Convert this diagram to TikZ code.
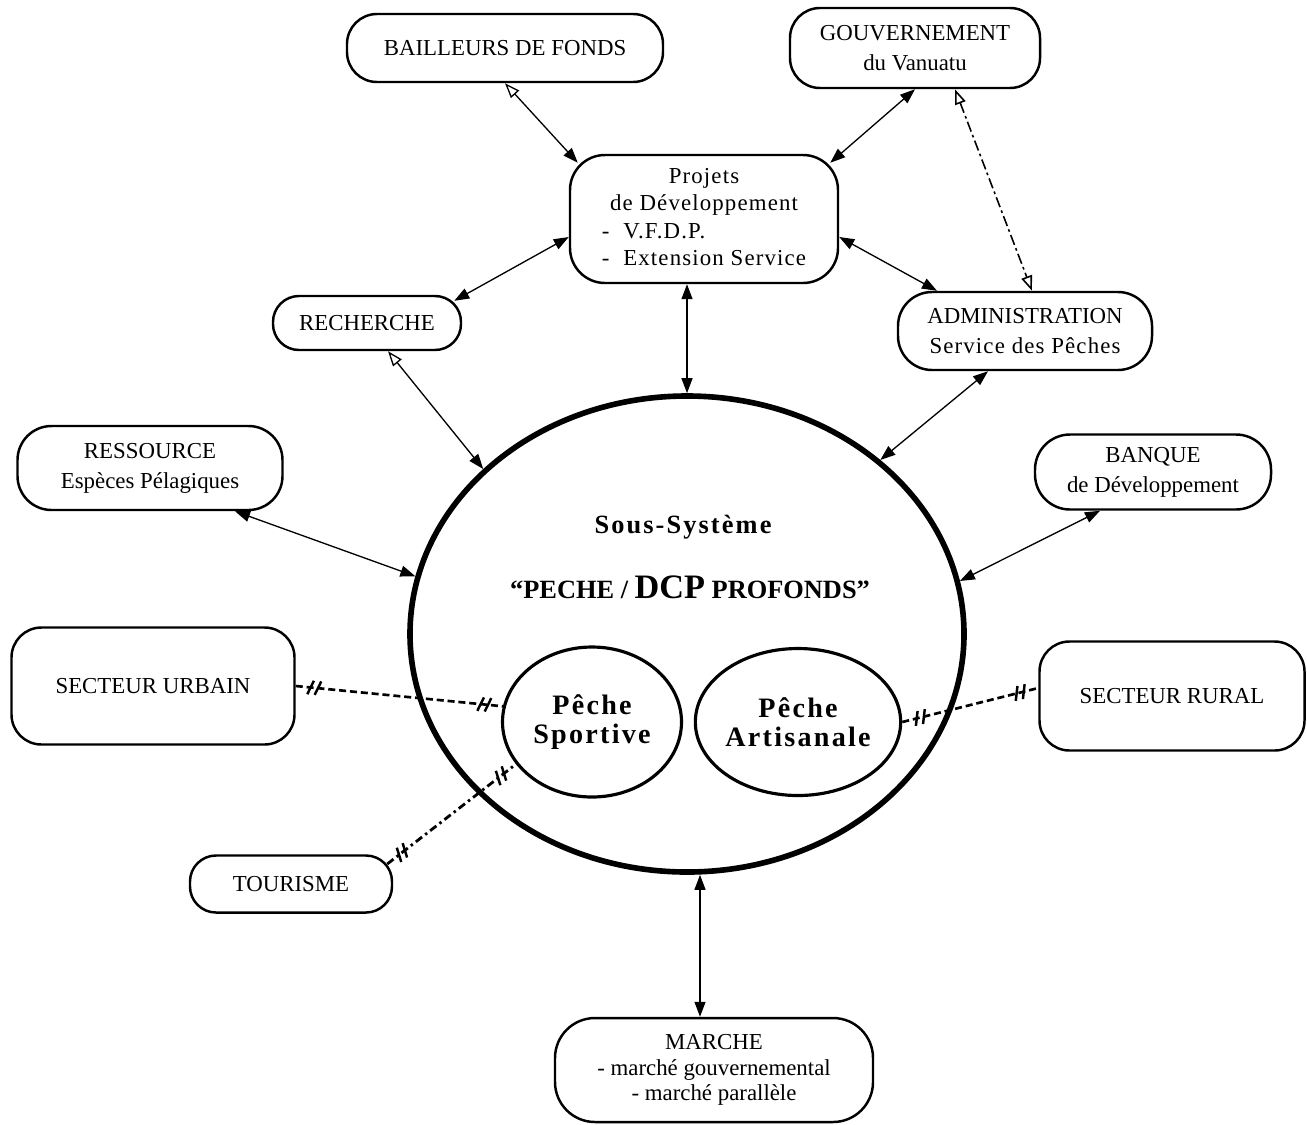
\documentclass[tikz,border=0pt]{standalone}
\usepackage{fontspec}
\setmainfont{Liberation Serif}
\newfontfamily\espace[LetterSpace=5]{Liberation Serif}
\newfontfamily\titre[LetterSpace=8]{Liberation Serif}
\usetikzlibrary{arrows.meta,shapes.geometric,decorations.markings}

\tikzstyle{boite}=[draw,line width=1.4pt,rounded corners=6mm,align=center,inner sep=0,
                   font=\fontsize{13}{17}\selectfont]
\tikzstyle{petite}=[rounded corners=5.2mm]
\tikzstyle{cercle}=[draw,ellipse,inner sep=0,align=center]
\tikzstyle{fl}=[line width=0.75pt,{Triangle[length=3mm,width=2.2mm]}-{Triangle[length=3mm,width=2.2mm]}]
\tikzstyle{flo}=[line width=0.75pt,{Triangle[open,length=3mm,width=2.2mm]}-{Triangle[length=3mm,width=2.2mm]}]
\tikzstyle{tiret}=[line width=0.9pt,dash pattern=on 6pt off 2pt on 1.5pt off 2pt,
                   {Triangle[open,length=3mm,width=2.2mm]}-{Triangle[open,length=3mm,width=2.2mm]}]
\tikzstyle{barre}=[solid,line width=1.4pt]
\tikzstyle{coupure}=[line width=1.5pt,dash pattern=on 4pt off 2.2pt,
   decoration={markings,
     mark=at position 10pt with {\draw[barre] (-3pt,-4pt) -- (0pt,4pt) (1.2pt,-4pt) -- (4.2pt,4pt);},
     mark=at position -10pt with {\draw[barre] (-4.2pt,-4pt) -- (-1.2pt,4pt) (0pt,-4pt) -- (3pt,4pt);}},
   postaction={decorate}]
\tikzstyle{coupurept}=[coupure,line width=1.6pt,dash pattern=on 4.5pt off 2.2pt on 1.4pt off 2.2pt]

\begin{document}
\begin{tikzpicture}[x=0.2mm,y=-0.2mm]
\path[use as bounding box] (0,0) rectangle (1307,1124);

\node[boite,minimum width=63.2mm,minimum height=13.6mm] (bail) at (505,48) {BAILLEURS DE FONDS};
\node[boite,minimum width=50mm,minimum height=16mm] (gouv) at (915,48) {GOUVERNEMENT\\du Vanuatu};
\node[boite,rounded corners=7mm,minimum width=53.6mm,minimum height=25.6mm,
      font=\espace\fontsize{13}{15.5}\selectfont] (proj) at (704,219)
  {\begin{tabular}{@{}l@{}}\multicolumn{1}{@{}c@{}}{Projets}\\
   \multicolumn{1}{@{}c@{}}{de Développement}\\- \ V.F.D.P.\\- \ Extension Service\end{tabular}};
\node[boite,petite,minimum width=37.6mm,minimum height=10.8mm] (rech) at (367,323) {RECHERCHE};
\node[boite,rounded corners=6.8mm,minimum width=50.8mm,minimum height=15.6mm] (adm) at (1025,331)
  {ADMINISTRATION\\{\espace Service des Pêches}};
\node[boite,rounded corners=6.8mm,minimum width=53mm,minimum height=16.8mm] (res) at (150,468)
  {RESSOURCE\\Espèces Pélagiques};
\node[boite,rounded corners=7mm,minimum width=47.2mm,minimum height=15mm] (banq) at (1153,472)
  {BANQUE\\de Développement};
\node[boite,minimum width=56.6mm,minimum height=23.4mm] (urb) at (153,686) {SECTEUR URBAIN};
\node[boite,minimum width=53mm,minimum height=21.8mm] (rur) at (1172,696) {SECTEUR RURAL};
\node[boite,petite,minimum width=40.4mm,minimum height=11.4mm] (tour) at (291,884) {TOURISME};
\node[boite,rounded corners=8mm,minimum width=63.6mm,minimum height=20.8mm,
      font=\fontsize{13}{14.5}\selectfont] (marche) at (714,1070)
  {MARCHE\\- marché gouvernemental\\- marché parallèle};

\node[cercle,line width=3.2pt,minimum width=110.8mm,minimum height=95.2mm] (ss) at (687,634) {};
\node[font=\titre\bfseries\fontsize{15}{18}\selectfont] (titre1) at (683,527) {Sous-Système};
\node[font=\bfseries\fontsize{15}{18}\selectfont] (titre2) at (690,587)
  {“PECHE / {\fontsize{19.5}{20}\selectfont DCP} PROFONDS”};
\node[cercle,line width=1.8pt,minimum width=35.8mm,minimum height=30mm,
      font=\titre\bfseries\fontsize{16}{16.5}\selectfont] (sport) at (592,722) {Pêche\\Sportive};
\node[cercle,line width=1.8pt,minimum width=36mm,minimum height=29.4mm,
      font=\titre\bfseries\fontsize{16}{16.5}\selectfont] (artis) at (798,722) {Pêche\\Artisanale};

\draw[flo] (bail.south) -- ([shift={(9,9)}]proj.north west);
\draw[fl] (gouv.south) -- ([shift={(-9,9)}]proj.north east);
\draw[tiret] ([shift={(40,0)}]gouv.south) -- ([shift={(7,0)}]adm.north);
\draw[fl] ([shift={(0,18)}]proj.west) -- ([shift={(-8,6)}]rech.north east);
\draw[fl] ([shift={(0,18)}]proj.east) -- ([shift={(-88,0)}]adm.north);
\draw[fl] (ss.north |- proj.south) -- (ss.north);
\draw[flo] ([shift={(21,0)}]rech.south) -- (ss.141);
\draw[fl] ([shift={(85,0)}]res.south) -- (ss.168);
\draw[fl] ([shift={(-37,0)}]adm.south) -- (ss.42);
\draw[fl] ([shift={(-53,0)}]banq.south) -- (ss.11);
\draw[fl] ([shift={(13,0)}]ss.south) -- ([shift={(-14,0)}]marche.north);

\draw[coupure] (urb.east) -- (sport.170);
\draw[coupure] (artis.east) -- ([shift={(0,-8)}]rur.west);
\draw[coupurept] ([shift={(-6,-20)}]tour.east) -- (sport.209);

\end{tikzpicture}
\end{document}
